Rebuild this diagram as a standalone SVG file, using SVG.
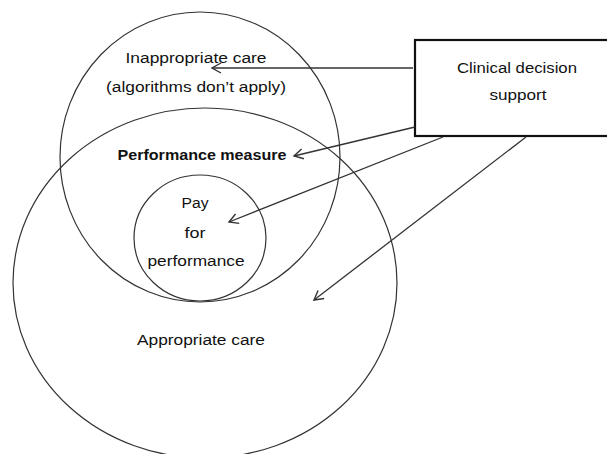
<svg xmlns="http://www.w3.org/2000/svg" width="607" height="454" viewBox="0 0 607 454">
<defs>
<style>
.c{fill:none;stroke:#333;stroke-width:1.2}
.t{font-family:"Liberation Sans",Arial,sans-serif;font-size:14px;fill:#111;text-anchor:middle}
.a{fill:none;stroke:#333;stroke-width:1.3}
</style>
<marker id="ah" markerWidth="12" markerHeight="12" refX="10" refY="6" orient="auto" markerUnits="userSpaceOnUse">
<path d="M1,1 L10,6 L1,11" fill="none" stroke="#333" stroke-width="1.4"/>
</marker>
</defs>
<rect width="607" height="454" fill="#fff"/>
<g id="appropriate">
<ellipse class="c" cx="205" cy="283" rx="192" ry="175"/>
<text class="t" x="201" y="345" textLength="128" lengthAdjust="spacingAndGlyphs">Appropriate care</text>
</g>
<g id="inappropriate">
<ellipse class="c" cx="200" cy="157" rx="140" ry="145"/>
<text class="t" x="196" y="63" textLength="141" lengthAdjust="spacingAndGlyphs">Inappropriate care</text>
<text class="t" x="196" y="92" textLength="180" lengthAdjust="spacingAndGlyphs">(algorithms don’t apply)</text>
</g>
<g id="performance">
<text class="t" x="202" y="160" textLength="169" lengthAdjust="spacingAndGlyphs" font-weight="bold">Performance measure</text>
</g>
<g id="pay">
<ellipse class="c" cx="200" cy="238" rx="66" ry="63"/>
<text class="t" x="195" y="208" textLength="27" lengthAdjust="spacingAndGlyphs">Pay</text>
<text class="t" x="195" y="238" textLength="21" lengthAdjust="spacingAndGlyphs">for</text>
<text class="t" x="196" y="266" textLength="97" lengthAdjust="spacingAndGlyphs">performance</text>
</g>
<g id="cds">
<rect x="415" y="40" width="200" height="96" fill="#fff" stroke="#111" stroke-width="2.2"/>
<text class="t" x="517" y="73" textLength="120" lengthAdjust="spacingAndGlyphs">Clinical decision</text>
<text class="t" x="518" y="100" textLength="57" lengthAdjust="spacingAndGlyphs">support</text>
</g>
<g id="connectors">
<line class="a" x1="413" y1="68" x2="212" y2="68" marker-end="url(#ah)"/>
<line class="a" x1="415" y1="127" x2="294" y2="156" marker-end="url(#ah)"/>
<line class="a" x1="443" y1="137" x2="229" y2="222" marker-end="url(#ah)"/>
<line class="a" x1="526" y1="137" x2="314" y2="300" marker-end="url(#ah)"/>
</g>
</svg>
